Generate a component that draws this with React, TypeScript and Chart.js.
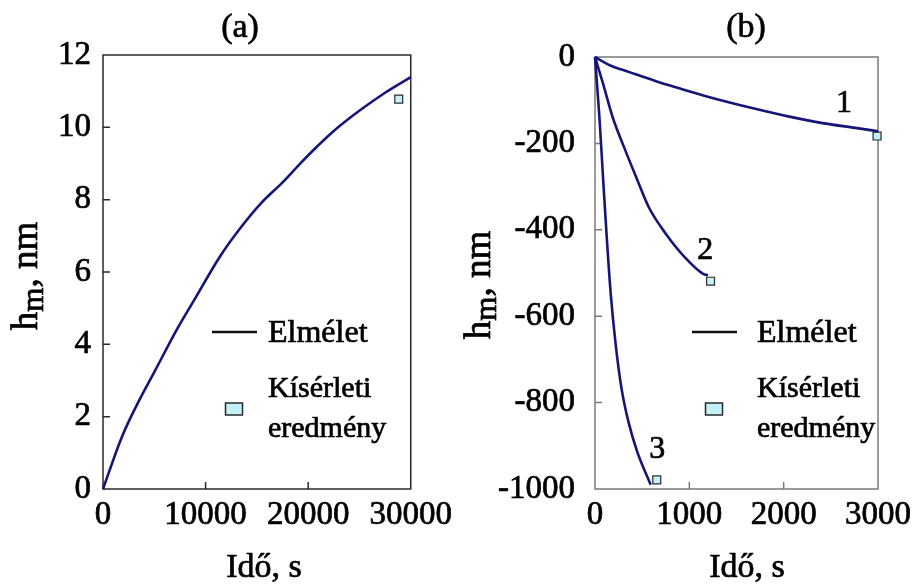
import React, { useEffect, useRef } from 'react';
import { Chart, registerables } from 'chart.js';

Chart.register(...registerables);

const FONT = "'Liberation Serif', 'Times New Roman', serif";
const LINE_COLOR = '#151579';
const MARK_FILL = '#c4f1f7';
const MARK_EDGE = '#2a2a2a';

// ---- Panel (a) ----
const timeA = [0, 1840, 3400, 5050, 7180, 8900, 11360, 13300, 15440, 17480, 19130, 20870, 22330, 24950, 27570, 30000];
const hA = [0, 1.44, 2.38, 3.26, 4.4, 5.23, 6.41, 7.18, 7.91, 8.47, 8.97, 9.47, 9.86, 10.45, 10.97, 11.39];
const expTimeA = [28830];
const expHA = [10.78];

// ---- Panel (b) ----
const time1 = [0, 156, 365, 646, 917, 1167, 1406, 1720, 2060, 2410, 2760, 3000];
const h1 = [0, -19, -35, -56, -74, -90, -104, -121, -138, -153, -164, -172];
const time2 = [0, 83, 188, 292, 438, 573, 750, 958, 1146, 1198];
const h2 = [0, -60, -140, -200, -279, -349, -409, -465, -502, -505];
const time3 = [0, 47, 89, 125, 167, 219, 281, 354, 448, 590];
const h3 = [0, -140, -293, -419, -549, -665, -767, -844, -914, -990];
const expTimeB = [2990, 1225, 655];
const expHB = [-183, -519, -979];
const curveNames = ['1', '2', '3'];
const curveNameTime = [2640, 1170, 660];
const curveNameH = [-107, -449, -909];

// ---- Text ----
const titleA = '(a)';
const titleB = '(b)';
const xTitle = 'Idő, s';
const yTitleMain = 'h';
const yTitleSub = 'm';
const yTitleRest = ', nm';
const legendLine = 'Elmélet';
const legendMarker = ['Kísérleti', 'eredmény'];

type Decor = {
  title: string;
  titleX: number;
  xTitleX: number;
  yTitleX: number;
  yTitleY: number;
  boxColor: string;
  legendLineX: number;
  legendTextX: number;
  legendMarkX: number;
  labels?: { text: string[]; t: number[]; h: number[] };
};

function heavyText(ctx: CanvasRenderingContext2D, s: string, x: number, y: number) {
  ctx.fillText(s, x, y);
  ctx.strokeText(s, x, y);
}

function makeDecor(d: Decor) {
  return {
    id: 'decor',
    beforeDatasetsDraw(chart: any) {
      const { ctx, chartArea } = chart;
      const { left, right, top, bottom } = chartArea;
      const x = chart.scales.x;
      const y = chart.scales.y;
      ctx.save();
      ctx.strokeStyle = d.boxColor;
      ctx.lineWidth = 1.5;
      ctx.strokeRect(left, top, right - left, bottom - top);
      ctx.beginPath();
      x.ticks.forEach((t: any) => {
        if (t.value === x.min || t.value === x.max) return;
        const px = x.getPixelForValue(t.value);
        ctx.moveTo(px, bottom);
        ctx.lineTo(px, bottom - 7);
      });
      y.ticks.forEach((t: any) => {
        if (t.value === y.min || t.value === y.max) return;
        const py = y.getPixelForValue(t.value);
        ctx.moveTo(left, py);
        ctx.lineTo(left + 7, py);
      });
      ctx.stroke();
      ctx.restore();
    },
    afterDraw(chart: any) {
      const { ctx } = chart;
      const x = chart.scales.x;
      const y = chart.scales.y;
      ctx.save();
      ctx.fillStyle = '#000';
      ctx.strokeStyle = '#000';
      ctx.lineWidth = 0.7;
      ctx.textBaseline = 'alphabetic';
      // panel title
      ctx.textAlign = 'center';
      ctx.font = `34px ${FONT}`;
      heavyText(ctx, d.title, d.titleX, 37);
      // x title
      ctx.font = `34px ${FONT}`;
      heavyText(ctx, xTitle, d.xTitleX, 577);
      // y title (rotated, with subscript)
      ctx.save();
      ctx.translate(d.yTitleX, d.yTitleY);
      ctx.rotate(-Math.PI / 2);
      const big = `37px ${FONT}`;
      const small = `31px ${FONT}`;
      ctx.font = big;
      const w1 = ctx.measureText(yTitleMain).width;
      const w3 = ctx.measureText(yTitleRest).width;
      ctx.font = small;
      const w2 = ctx.measureText(yTitleSub).width;
      let cx = -(w1 + w2 + w3) / 2;
      ctx.textAlign = 'left';
      ctx.font = big;
      heavyText(ctx, yTitleMain, cx, 0);
      cx += w1;
      ctx.font = small;
      heavyText(ctx, yTitleSub, cx, 6);
      cx += w2;
      ctx.font = big;
      heavyText(ctx, yTitleRest, cx, 0);
      ctx.restore();
      // legend
      ctx.save();
      ctx.strokeStyle = '#111';
      ctx.lineWidth = 2.5;
      ctx.beginPath();
      ctx.moveTo(d.legendLineX, 332);
      ctx.lineTo(d.legendLineX + 45, 332);
      ctx.stroke();
      ctx.fillStyle = MARK_FILL;
      ctx.strokeStyle = MARK_EDGE;
      ctx.lineWidth = 1.5;
      ctx.fillRect(d.legendMarkX - 8.5, 409 - 6, 17, 12);
      ctx.strokeRect(d.legendMarkX - 8.5, 409 - 6, 17, 12);
      ctx.restore();
      ctx.textAlign = 'left';
      ctx.font = `32px ${FONT}`;
      heavyText(ctx, legendLine, d.legendTextX, 342);
      ctx.font = `30px ${FONT}`;
      heavyText(ctx, legendMarker[0], d.legendTextX, 397);
      heavyText(ctx, legendMarker[1], d.legendTextX, 437);
      // curve labels
      if (d.labels) {
        ctx.textAlign = 'center';
        ctx.textBaseline = 'middle';
        ctx.font = `32px ${FONT}`;
        d.labels.text.forEach((s, i) => {
          heavyText(ctx, s, x.getPixelForValue(d.labels!.t[i]), y.getPixelForValue(d.labels!.h[i]));
        });
      }
      ctx.restore();
    },
  };
}

function pts(xs: number[], ys: number[]) {
  return xs.map((v, i) => ({ x: v, y: ys[i] }));
}

const tickFont = { family: FONT, size: 33 };

function lineDs(xs: number[], ys: number[]) {
  return {
    type: 'line' as const,
    data: pts(xs, ys),
    borderColor: LINE_COLOR,
    borderWidth: 2.6,
    pointRadius: 0,
    cubicInterpolationMode: 'monotone' as const,
    fill: false,
    clip: false as any,
  };
}

function expDs(xs: number[], ys: number[]) {
  return {
    type: 'scatter' as const,
    data: pts(xs, ys),
    pointStyle: 'rect' as const,
    pointRadius: 5.6,
    backgroundColor: MARK_FILL,
    borderColor: MARK_EDGE,
    borderWidth: 1.2,
    clip: false as any,
  };
}

function baseOptions(opts: {
  padRight: number;
  padTop: number;
  xMax: number;
  xStep: number;
  yMin: number;
  yMax: number;
  yStep: number;
  yWidth: number;
  yPad: number;
}) {
  const plain = (v: any) => String(v);
  return {
    animation: false as const,
    responsive: false,
    maintainAspectRatio: false,
    events: [],
    layout: { padding: { top: opts.padTop, right: opts.padRight, left: 0, bottom: 0 } },
    plugins: { legend: { display: false }, tooltip: { enabled: false }, title: { display: false } },
    scales: {
      x: {
        type: 'linear' as const,
        min: 0,
        max: opts.xMax,
        ticks: {
          stepSize: opts.xStep,
          font: tickFont,
          color: '#000',
          maxRotation: 0,
          padding: 7,
          autoSkip: false,
          callback: plain,
          textStrokeColor: '#000',
          textStrokeWidth: 0.7,
        },
        grid: { display: false, drawTicks: false },
        border: { display: false },
        afterFit: (s: any) => {
          s.height = 96;
        },
      },
      y: {
        type: 'linear' as const,
        min: opts.yMin,
        max: opts.yMax,
        ticks: {
          stepSize: opts.yStep,
          font: tickFont,
          color: '#000',
          padding: opts.yPad,
          autoSkip: false,
          callback: plain,
          textStrokeColor: '#000',
          textStrokeWidth: 0.7,
        },
        grid: { display: false, drawTicks: false },
        border: { display: false },
        afterFit: (s: any) => {
          s.width = opts.yWidth;
        },
      },
    },
  };
}

export default function App() {
  const refA = useRef<HTMLCanvasElement>(null);
  const refB = useRef<HTMLCanvasElement>(null);

  useEffect(() => {
    const chartA = new Chart(refA.current!, {
      type: 'line',
      data: { datasets: [lineDs(timeA, hA), expDs(expTimeA, expHA)] as any },
      options: baseOptions({
        padRight: 47,
        padTop: 55,
        xMax: 30000,
        xStep: 10000,
        yMin: 0,
        yMax: 12,
        yStep: 2,
        yWidth: 103,
        yPad: 12,
      }) as any,
      plugins: [
        makeDecor({
          title: titleA,
          titleX: 240,
          xTitleX: 264,
          yTitleX: 37,
          yTitleY: 276,
          boxColor: '#2a2a2a',
          legendLineX: 212,
          legendTextX: 268,
          legendMarkX: 234,
        }),
      ],
    });
    const chartB = new Chart(refB.current!, {
      type: 'line',
      data: {
        datasets: [lineDs(time1, h1), lineDs(time2, h2), lineDs(time3, h3), expDs(expTimeB, expHB)] as any,
      },
      options: baseOptions({
        padRight: 35,
        padTop: 57,
        xMax: 3000,
        xStep: 1000,
        yMin: -1000,
        yMax: 0,
        yStep: 200,
        yWidth: 136,
        yPad: 20,
      }) as any,
      plugins: [
        makeDecor({
          title: titleB,
          titleX: 746 - 459,
          xTitleX: 747 - 459,
          yTitleX: 490 - 459,
          yTitleY: 285,
          boxColor: '#7a7a7a',
          legendLineX: 692 - 459,
          legendTextX: 757 - 459,
          legendMarkX: 714 - 459,
          labels: { text: curveNames, t: curveNameTime, h: curveNameH },
        }),
      ],
    });
    return () => {
      chartA.destroy();
      chartB.destroy();
    };
  }, []);

  return (
    <div style={{ position: 'fixed', left: 0, top: 0, width: 918, height: 585, background: '#fff' }}>
      <canvas ref={refA} width={459} height={585} style={{ position: 'absolute', left: 0, top: 0, width: 459, height: 585 }} />
      <canvas ref={refB} width={459} height={585} style={{ position: 'absolute', left: 459, top: 0, width: 459, height: 585 }} />
    </div>
  );
}
